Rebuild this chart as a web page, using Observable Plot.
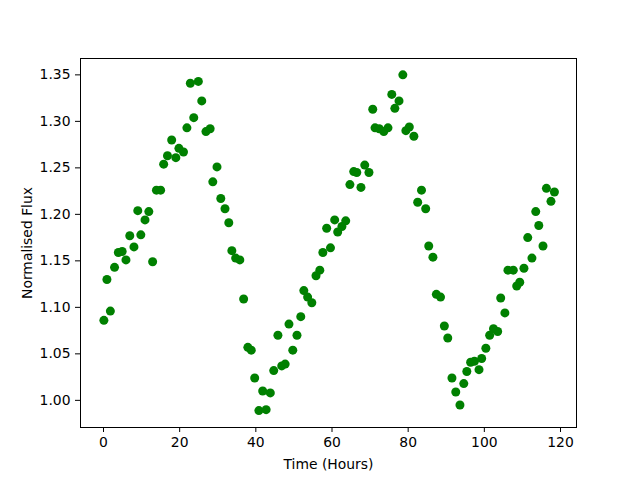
<!DOCTYPE html>
<html>
<head>
<meta charset="utf-8">
<script src="https://cdn.jsdelivr.net/npm/d3@7"></script>
<script src="https://cdn.jsdelivr.net/npm/@observablehq/plot@0.6"></script>
<style>
  html, body { margin: 0; padding: 0; background: #fff; }
  svg { display: block; }
</style>
</head>
<body>
<div id="chart"></div>
<script>
const hours = [
  0.1,0.9,1.8,2.9,3.9,4.9,5.9,6.9,8.0,9.0,9.8,10.9,11.9,12.9,13.9,15.0,15.8,16.8,17.9,19.0,
  19.8,21.0,21.9,22.8,23.7,24.9,25.8,26.9,28.0,28.7,29.8,30.8,31.9,32.9,33.7,34.7,35.8,36.8,37.9,38.8,
  39.7,40.8,41.8,42.7,43.8,44.7,45.8,46.8,47.7,48.7,49.7,50.8,51.8,52.6,53.6,54.7,55.8,56.8,57.6,58.6,
  59.6,60.7,61.5,62.6,63.6,64.7,65.7,66.5,67.6,68.6,69.7,70.7,71.3,72.4,73.6,74.7,75.7,76.5,77.6,78.6,
  79.4,80.3,81.5,82.5,83.5,84.6,85.4,86.5,87.4,88.5,89.5,90.4,91.5,92.5,93.6,94.6,95.4,96.4,97.4,98.6,
  99.3,100.4,101.4,102.4,103.5,104.3,105.4,106.2,107.6,108.5,109.3,110.4,111.4,112.5,113.5,114.3,115.4,116.3,117.5,118.4
];
const flux = [
  1.086,1.130,1.096,1.143,1.159,1.160,1.151,1.177,1.165,1.204,1.178,1.194,1.203,1.149,1.226,1.226,1.254,1.263,1.280,1.261,
  1.271,1.267,1.293,1.341,1.304,1.343,1.322,1.289,1.292,1.235,1.251,1.217,1.206,1.191,1.161,1.153,1.151,1.109,1.057,1.054,
  1.024,0.989,1.010,0.990,1.008,1.032,1.070,1.037,1.039,1.082,1.054,1.070,1.090,1.118,1.111,1.105,1.134,1.140,1.159,1.185,
  1.164,1.194,1.181,1.187,1.193,1.232,1.246,1.245,1.229,1.253,1.245,1.313,1.293,1.292,1.289,1.293,1.329,1.314,1.322,1.350,
  1.290,1.294,1.284,1.213,1.226,1.206,1.166,1.154,1.114,1.111,1.080,1.067,1.024,1.009,0.995,1.018,1.031,1.041,1.042,1.033,
  1.045,1.056,1.070,1.077,1.074,1.110,1.094,1.140,1.140,1.123,1.127,1.142,1.175,1.153,1.203,1.188,1.166,1.228,1.214,1.224
];
const xTicks = [0, 20, 40, 60, 80, 100, 120];
const yTicks = [1.00, 1.05, 1.10, 1.15, 1.20, 1.25, 1.30, 1.35];
const xLabel = "Time (Hours)";
const yLabel = "Normalised Flux";

const data = hours.map((h, i) => ({h, f: flux[i]}));

const chart = Plot.plot({
  width: 640,
  height: 480,
  marginLeft: 80,
  marginRight: 64,
  marginTop: 58,
  marginBottom: 53,
  style: {fontFamily: "DejaVu Sans", fontSize: "13.9px", color: "#000", background: "#fff"},
  x: {domain: [-6.04, 124.2]},
  y: {domain: [0.9708, 1.3676]},
  marks: [
    Plot.axisX({ticks: xTicks, tickSize: 5, tickPadding: 5, tickFormat: d3.format("d"),
      label: xLabel, labelAnchor: "center", labelArrow: "none", labelOffset: 41}),
    Plot.axisY({ticks: yTicks, tickSize: 5, tickPadding: 5, tickFormat: d3.format(".2f"),
      label: yLabel, labelAnchor: "center", labelArrow: "none", labelOffset: 58}),
    Plot.dot(data, {x: "h", y: "f", r: 4.5, fill: "#008000", stroke: "none"}),
    Plot.frame({stroke: "#000", strokeWidth: 1})
  ]
});
document.getElementById("chart").appendChild(chart);
</script>
</body>
</html>
